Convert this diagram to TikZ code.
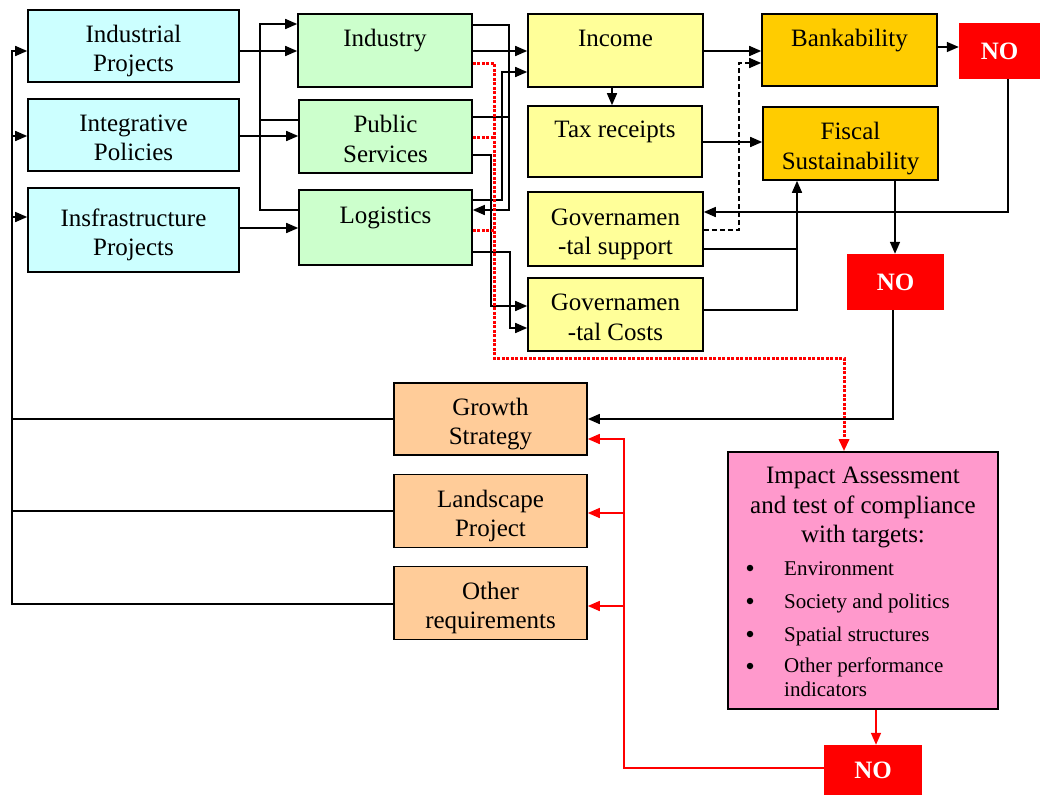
\documentclass[tikz,border=0pt]{standalone}
\usepackage{fontspec}
\setmainfont{Liberation Serif}
\usetikzlibrary{arrows.meta}
\definecolor{cyanbox}{HTML}{CCFFFF}
\definecolor{greenbox}{HTML}{CCFFCC}
\definecolor{yellowbox}{HTML}{FFFF99}
\definecolor{goldbox}{HTML}{FFCC00}
\definecolor{peachbox}{HTML}{FFCC99}
\definecolor{pinkbox}{HTML}{FF99CC}
\definecolor{nored}{HTML}{FF0000}
\newcommand\bxfont{\fontsize{25}{29.5}\selectfont}
\newcommand\itemfont{\fontsize{21}{24}\selectfont}
% struts: the same two-line layout in every box, text slightly below centre
\newcommand\topstrut{\rule{0pt}{28pt}}
\newcommand\lowstrut{\rule[-6pt]{0pt}{0pt}}

\begin{document}
\begin{tikzpicture}[x=1pt,y=-1pt,
  box/.style={draw, line width=1.6pt, align=center, inner sep=0pt, font=\bxfont},
  dim/.style 2 args={minimum width=#1pt, minimum height=#2pt},
  nobox/.style={fill=nored, inner sep=0pt, font=\bxfont\bfseries, text=white},
  ln/.style={line width=1.5pt},
  arr/.style={ln, -{Triangle[length=12pt,width=10pt]}},
  redarr/.style={line width=1.5pt, nored, -{Triangle[length=12pt,width=10pt]}},
  reddot/.style={line width=3pt, nored, dash pattern=on 3pt off 1.5pt},
  item/.style={font=\itemfont, inner sep=0pt, anchor=base west},
  bul/.style={circle, fill=black, inner sep=0pt, minimum size=6.5pt},
  ]
\useasboundingbox (0,0) rectangle (1042,795);

% projects and policies
\node[box, fill=cyanbox, dim={211}{72}] (ip)    at (133.5,46)  {\topstrut Industrial\\Projects\lowstrut};
\node[box, fill=cyanbox, dim={211}{72}] (ipol)  at (133.5,135) {\topstrut Integrative\\Policies\lowstrut};
\node[box, fill=cyanbox, dim={211}{84}] (infra) at (133.5,230) {\topstrut Insfrastructure\\Projects\lowstrut};

% sectors
\node[box, fill=greenbox, dim={174}{73}] (ind) at (385,50.5)   {\topstrut Industry\\\lowstrut};
\node[box, fill=greenbox, dim={173}{73}] (ps)  at (385.5,136.5) {\topstrut Public\\Services\lowstrut};
\node[box, fill=greenbox, dim={173}{75}] (log) at (385.5,227.5) {\topstrut Logistics\\\lowstrut};

% public finance
\node[box, fill=yellowbox, dim={175}{73}] (inc)   at (615.5,50.5)  {\topstrut Income\\\lowstrut};
\node[box, fill=yellowbox, dim={174}{71}] (tax)   at (615,141.5)   {\topstrut Tax receipts\\\lowstrut};
\node[box, fill=yellowbox, dim={175}{74}] (gsup)  at (615.5,229)   {\topstrut Governamen\\-tal support\lowstrut};
\node[box, fill=yellowbox, dim={175}{73}] (gcost) at (615.5,314.5) {\topstrut Governamen\\-tal Costs\lowstrut};

% evaluation
\node[box, fill=goldbox, dim={175}{72}] (bank) at (849.5,50)  {\topstrut Bankability\\\lowstrut};
\node[box, fill=goldbox, dim={175}{73}] (fisc) at (850.5,143.5) {\topstrut Fiscal\\Sustainability\lowstrut};

\node[nobox, dim={81}{56}] (no1) at (999.5,51) {NO};
\node[nobox, dim={97}{56}] (no2) at (895.5,282) {NO};
\node[nobox, dim={98}{50}] (no3) at (873,770) {NO};

% planning frame
\node[box, fill=peachbox, dim={193}{72}] (gs)   at (490.5,419) {\topstrut Growth\\Strategy\lowstrut};
\node[box, fill=peachbox, dim={193}{73}] (land) at (490.5,511) {\topstrut Landscape\\Project\lowstrut};
\node[box, fill=peachbox, dim={193}{73}] (oth)  at (490.5,603) {\topstrut Other\\requirements\lowstrut};

% impact assessment
\node[box, fill=pinkbox, dim={270}{257}] (imp) at (863,580.5) {};
\node[font=\bxfont, align=center, anchor=north, inner sep=0pt] (imptitle) at (863,467)
  {Impact Assessment\\and test of compliance\\with targets:};
\node[bul] (b1) at (750,568) {};
\node[item] (t1) at (784,575) {Environment};
\node[bul] (b2) at (750,601) {};
\node[item] (t2) at (784,608) {Society and politics};
\node[bul] (b3) at (750,634) {};
\node[item] (t3) at (784,641) {Spatial structures};
\node[bul] (b4) at (750,666) {};
\node[item, align=left, anchor=north west] (t4) at (784,658) {Other performance\\indicators};

% feedback bus on the left
\coordinate (bustop) at (12,51);
\coordinate (busbot) at (12,604);
\draw[ln] (gs.west) -- (gs.west -| bustop);
\draw[ln] (land.west) -- (land.west -| bustop);
\draw[arr] (oth.west |- busbot) -- (busbot) -- (bustop) -- (ip.west |- bustop);
\draw[arr] (bustop |- 0,136) -- (ipol.west |- 0,136);
\draw[arr] (bustop |- 0,217) -- (infra.west |- 0,217);

% projects to sectors
\draw[arr] (ip.east |- 0,51) -- (ind.west |- 0,51);
\draw[arr] (ipol.east |- 0,136) -- (ps.west |- 0,136);
\draw[arr] (infra.east |- 0,228) -- (log.west |- 0,228);
\coordinate (cl) at (260,24);
\draw[ln] (ps.west |- 0,120) -- (cl |- 0,120);
\draw[arr] (log.west |- 0,210) -- (cl |- 0,210) -- (cl) -- (ind.west |- cl);

% sectors to public finance
\coordinate (cr) at (509,25);
\draw[arr] (ind.east |- cr) -- (cr) -- (cr |- 0,210) -- (log.east |- 0,210);
\draw[ln] (ps.east |- 0,117) -- (cr |- 0,117);
\draw[arr] (ind.east |- 0,51) -- (inc.west |- 0,51);
\coordinate (ci) at (502,72);
\draw[arr] (log.east |- 0,200) -- (ci |- 0,200) -- (ci) -- (inc.west |- ci);
\coordinate (cg1) at (491,306);
\draw[arr] (ps.east |- 0,155) -- (cg1 |- 0,155) -- (cg1) -- (gcost.west |- cg1);
\coordinate (cg2) at (510,328);
\draw[arr] (log.east |- 0,252) -- (cg2 |- 0,252) -- (cg2) -- (gcost.west |- cg2);

% sectors to impact assessment
\coordinate (rd) at (494,358);
\coordinate (rd2) at (844,358);
\draw[reddot] (ps.east |- 0,137) -- (rd |- 0,137);
\draw[reddot] (log.east |- 0,230) -- (rd |- 0,230);
\draw[reddot, -{Triangle[length=12pt,width=10pt]}] (ind.east |- 0,63) -- (rd |- 0,63) -- (rd) -- (rd2) -- (imp.north -| rd2);

% public finance to evaluation
\draw[arr] (inc.east |- 0,51) -- (bank.west |- 0,51);
\draw[arr] (inc.south -| 612,0) -- (tax.north -| 612,0);
\draw[arr] (tax.east |- 0,142) -- (fisc.west |- 0,142);
\coordinate (dsh) at (739,63);
\draw[arr, dash pattern=on 5pt off 3pt] (gsup.east |- 0,230) -- (dsh |- 0,230) -- (dsh) -- (bank.west |- dsh);
\coordinate (cf) at (797,310);
\draw[ln] (gsup.east |- 0,249) -- (cf |- 0,249);
\draw[arr] (gcost.east |- cf) -- (cf) -- (fisc.south -| cf);

% negative outcomes
\draw[arr] (bank.east |- 0,47) -- (no1.west |- 0,47);
\coordinate (cn) at (1008,212);
\draw[arr] (no1.south -| cn) -- (cn) -- (gsup.east |- cn);
\draw[arr] (fisc.south -| 895,0) -- (no2.north -| 895,0);
\coordinate (cn2) at (893,419);
\draw[arr] (no2.south -| cn2) -- (cn2) -- (gs.east |- cn2);
\draw[redarr] (imp.south -| 876,0) -- (no3.north -| 876,0);
\coordinate (rv) at (624,768);
\draw[redarr] (no3.west |- rv) -- (rv) -- (rv |- 0,439) -- (gs.east |- 0,439);
\draw[redarr] (rv |- 0,513) -- (land.east |- 0,513);
\draw[redarr] (rv |- 0,606) -- (oth.east |- 0,606);
\end{tikzpicture}
\end{document}
